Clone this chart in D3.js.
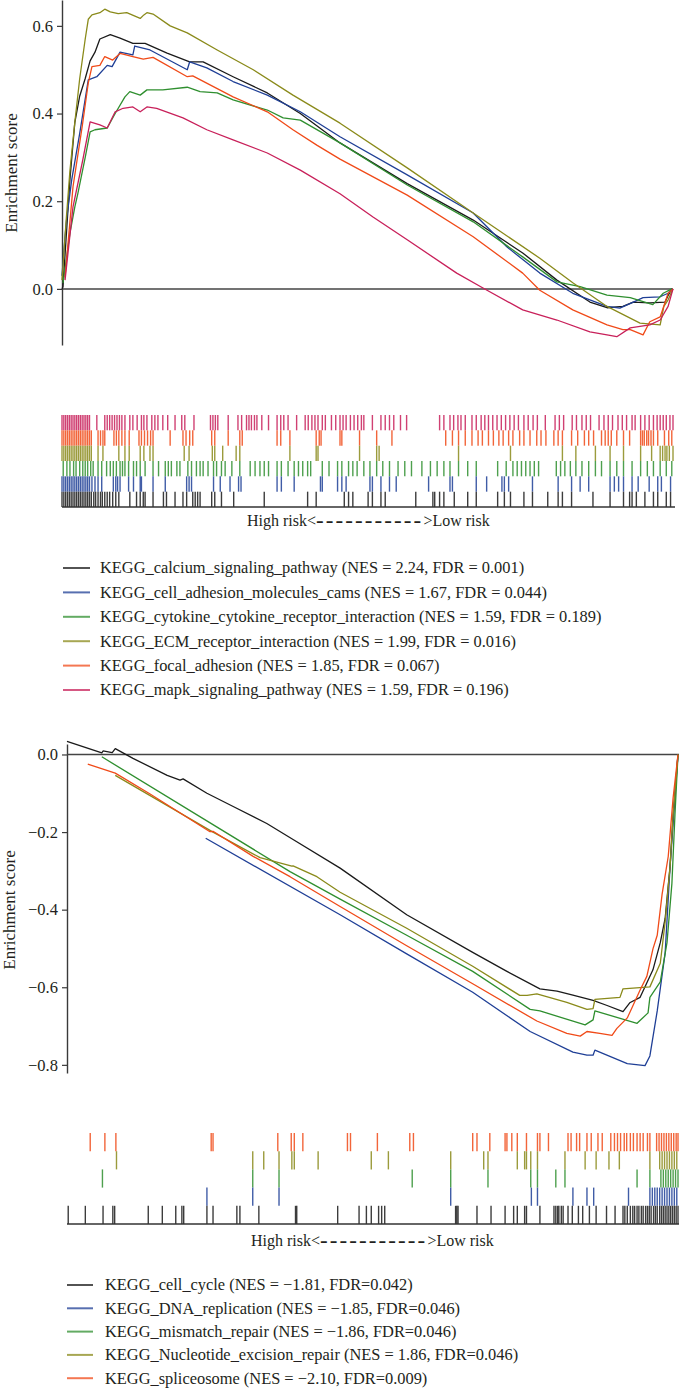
<!DOCTYPE html>
<html><head><meta charset="utf-8">
<script src="https://cdn.jsdelivr.net/npm/d3@7"></script>
<style>
body{margin:0;background:#fff}
svg{display:block}
text{font-family:"Liberation Serif","DejaVu Serif","Times New Roman",serif;fill:#231f20}
</style>
</head><body>
<svg id="c" width="679" height="1389"></svg>
<script>
// ---------------- TOP PANEL DATA ----------------
const topNames = ["KEGG_calcium_signaling_pathway","KEGG_cell_adhesion_molecules_cams","KEGG_cytokine_cytokine_receptor_interaction","KEGG_ECM_receptor_interaction","KEGG_focal_adhesion","KEGG_mapk_signaling_pathway"];
const topStats = ["(NES = 2.24, FDR = 0.001)","(NES = 1.67, FDR = 0.044)","(NES = 1.59, FDR = 0.189)","(NES = 1.99, FDR = 0.016)","(NES = 1.85, FDR = 0.067)","(NES = 1.59, FDR = 0.196)"];
const topColors = ["#1a1a1a","#1f3f96","#2f8f2f","#8a8a1a","#f04a18","#c8205a"];
const topTicks = [0.0, 0.2, 0.4, 0.6];

// running enrichment score: [rank %, ES]
const esCalcium = [[0,0.0],[0.16,0.005],[1.3,0.25],[2.1,0.38],[2.9,0.44],[3.8,0.48],[4.6,0.52],[5.4,0.54],[6.2,0.57],[7.9,0.58],[9.5,0.572],[11.6,0.56],[13.6,0.56],[17.2,0.538],[20.9,0.518],[23.1,0.518],[28.0,0.484],[33.6,0.447],[39.0,0.40],[45.5,0.333],[56.5,0.24],[67.3,0.157],[75.4,0.082],[81.0,0.02],[86.4,-0.03],[89.2,-0.043],[91.8,-0.04],[93.5,-0.03],[96.2,-0.032],[98.7,-0.03],[99.2,-0.015],[99.8,0.0]];
const esCams = [[0,0.03],[0.5,0.12],[0.8,0.165],[1.6,0.25],[2.9,0.355],[4.3,0.477],[5.7,0.484],[7.4,0.51],[8.2,0.507],[9.5,0.54],[11.6,0.534],[11.9,0.554],[14.4,0.545],[20.5,0.50],[20.9,0.518],[23.7,0.504],[28.0,0.473],[33.6,0.442],[39.0,0.404],[45.5,0.347],[56.5,0.26],[67.3,0.173],[72.8,0.096],[78.2,0.036],[83.6,-0.01],[89.2,-0.04],[91.3,-0.044],[93.5,-0.03],[95.1,-0.02],[97.9,-0.018],[99.2,-0.01],[99.8,0.0]];
const esCytokine = [[0.16,0.013],[1.3,0.127],[2.1,0.187],[2.6,0.218],[3.8,0.30],[4.6,0.358],[5.4,0.363],[7.4,0.367],[8.7,0.40],[10.3,0.438],[11.1,0.45],[12.8,0.442],[13.9,0.454],[16.5,0.454],[20.5,0.46],[22.6,0.45],[25.4,0.447],[28.0,0.431],[33.6,0.408],[36.2,0.39],[39.0,0.385],[45.5,0.333],[56.5,0.237],[67.3,0.153],[75.4,0.073],[81.0,0.016],[84.8,0.005],[89.2,-0.014],[93.0,-0.02],[96.7,-0.036],[98.4,-0.01],[99.8,0.0]];
const esEcm = [[0,0.02],[0.65,0.15],[1.3,0.27],[2.1,0.38],[2.9,0.48],[3.8,0.57],[4.3,0.615],[4.9,0.625],[6.2,0.63],[7.0,0.638],[7.9,0.632],[9.2,0.628],[10.6,0.63],[12.8,0.617],[13.4,0.625],[13.9,0.63],[14.9,0.627],[17.7,0.60],[20.5,0.584],[25.4,0.545],[31.3,0.50],[37.8,0.442],[45.5,0.378],[56.5,0.276],[67.3,0.173],[78.2,0.07],[83.6,0.014],[89.2,-0.04],[94.6,-0.078],[97.9,-0.082],[98.5,-0.04],[99.2,-0.025],[100,0.0]];
const esFocal = [[0.5,0.027],[1.8,0.233],[3.3,0.37],[4.3,0.47],[4.9,0.507],[6.2,0.51],[7.0,0.53],[8.3,0.522],[9.5,0.537],[11.6,0.53],[13.3,0.524],[14.9,0.528],[20.5,0.484],[21.4,0.486],[28.0,0.438],[33.6,0.404],[37.8,0.363],[41.7,0.328],[45.5,0.296],[56.5,0.214],[67.3,0.119],[75.4,0.036],[78.2,-0.003],[83.6,-0.048],[89.2,-0.082],[91.8,-0.093],[93.0,-0.093],[95.1,-0.105],[96.2,-0.075],[97.9,-0.064],[99.2,-0.01],[100,0.0]];
const esMapk = [[0.5,0.02],[1.8,0.187],[3.4,0.294],[4.6,0.381],[6.2,0.374],[7.4,0.367],[8.7,0.404],[10.0,0.412],[11.6,0.415],[12.8,0.404],[13.9,0.415],[15.5,0.412],[19.8,0.39],[23.7,0.363],[28.0,0.34],[33.6,0.31],[39.0,0.271],[45.5,0.217],[50.9,0.164],[56.5,0.112],[64.6,0.036],[68.9,0.002],[75.4,-0.048],[81.0,-0.071],[86.4,-0.098],[89.2,-0.105],[90.8,-0.109],[93.0,-0.089],[96.2,-0.082],[97.9,-0.071],[99.2,-0.04],[100,0.0]];
const topCurves = [esCalcium, esCams, esCytokine, esEcm, esFocal, esMapk];

// hit positions (rank %)
const hitsCalcium = [0,0.3,0.6,0.9,1.2,1.5,1.8,2.1,2.4,2.7,3.0,3.3,3.6,3.9,4.2,4.5,4.8,5.2,5.5,5.9,6.3,6.6,7.0,7.4,7.8,8.3,8.8,9.3,11.1,12.2,12.8,13.3,13.6,14.9,16.6,17.1,18.5,19.8,20.4,21.4,21.8,22.2,22.6,24.5,25.0,26.1,28.1,33.1,40.2,41.6,46.2,46.9,47.6,50.1,50.8,52.2,52.9,57.9,60.7,61.0,61.8,62.5,64.2,66.4,67.8,71.3,72.4,73.4,75.6,77.0,79.5,81.2,81.9,83.4,86.9,89.7,91.9,92.9,93.3,94.0,95.4,96.8,97.5,98.9,99.6];
const hitsCams = [0,0.3,0.6,0.9,1.2,1.5,1.8,2.1,2.4,2.7,3.0,3.3,3.6,3.9,4.2,4.5,4.9,5.4,5.9,6.5,8.4,8.8,9.1,9.5,10.9,11.7,12.8,13.0,14.9,16.9,20.4,20.8,21.2,24.8,25.9,27.5,28.9,29.3,35.2,35.9,38.0,42.3,42.6,45.1,45.8,46.5,50.4,50.8,52.2,53.6,54.7,60.0,63.5,63.9,67.8,69.5,72.0,72.4,73.1,77.0,81.2,83.4,84.8,86.2,89.7,90.4,91.1,91.9,93.3,94.3,96.1,97.5,98.1,99.6];
const hitsCytokine = [0.2,0.8,1.3,1.9,2.3,2.9,3.4,3.8,4.2,4.7,5.1,5.9,6.5,7.3,7.9,8.4,8.9,9.5,9.9,10.3,10.9,11.7,12.2,12.8,13.6,14.9,15.8,16.9,17.4,17.9,18.8,19.3,20.6,21.2,22.0,22.6,23.1,23.9,24.8,25.3,26.1,26.7,27.8,29.1,30.8,31.6,32.4,33.1,33.8,35.2,35.9,37.0,38.0,38.7,39.4,40.2,40.7,42.6,43.7,45.1,45.8,46.9,47.6,48.3,49.4,50.4,51.5,52.5,53.6,55.0,56.1,57.2,58.9,60.3,61.4,62.5,63.5,64.9,66.4,67.8,71.3,72.7,73.8,74.5,75.2,75.9,76.6,77.3,78.0,80.9,81.6,82.3,83.2,84.1,85.1,86.2,87.3,88.3,89.7,90.8,91.9,93.3,94.7,95.8,96.8,97.9,98.9,99.8];
const hitsEcm = [0,0.3,0.6,0.9,1.2,1.5,1.8,2.1,2.4,2.7,3.0,3.3,3.6,3.9,4.2,4.5,4.8,5.9,6.7,9.3,10.3,11.0,12.8,13.4,14.4,14.9,20.0,20.8,24.6,25.0,26.3,28.5,29.1,37.3,41.6,41.9,48.7,51.5,51.9,64.9,73.4,81.9,84.1,87.3,89.7,91.9,94.7,96.5,97.9,98.3,98.7,99.0,99.4,100];
const hitsFocal = [0,0.3,0.6,0.9,1.2,1.5,1.8,2.1,2.4,2.7,3.0,3.3,3.6,3.9,4.2,4.5,4.8,5.9,6.3,6.7,7.0,8.5,8.9,9.3,9.8,10.3,11.0,12.6,13.0,13.5,14.0,14.5,14.9,17.7,19.8,20.3,20.9,21.4,24.5,25.0,27.2,29.1,29.5,35.2,35.8,37.3,41.6,42.1,42.4,45.5,45.8,48.7,51.5,54.0,62.8,63.9,64.9,66.0,67.1,68.1,68.8,69.8,70.6,71.5,72.2,73.1,73.8,74.9,75.6,76.6,77.7,78.4,79.2,80.5,81.2,81.9,83.4,84.4,85.5,86.2,87.0,88.3,88.9,89.4,89.9,90.8,91.9,92.9,94.7,95.0,95.3,95.7,96.0,96.4,96.8,97.5,98.6,99.3,99.8];
const hitsMapk = [0,0.3,0.6,0.9,1.2,1.5,1.8,2.1,2.4,2.7,3.0,3.3,3.6,3.9,4.2,4.5,5.7,7.0,7.4,7.8,8.2,8.6,9.0,9.4,9.8,10.3,11.1,11.6,12.3,13.0,13.4,13.9,14.7,15.2,15.7,16.5,17.3,18.5,19.6,20.1,21.6,24.3,24.7,25.1,25.5,27.2,28.8,29.4,30.2,30.6,31.0,31.5,31.9,32.7,33.8,35.2,35.8,36.3,37.0,38.4,39.8,40.3,40.9,41.4,41.9,42.6,43.1,44.1,44.8,45.5,46.0,46.5,47.2,47.8,48.4,49.0,49.4,50.8,52.2,52.9,53.6,54.3,55.4,56.4,61.8,62.5,63.5,64.1,64.8,65.3,66.0,67.1,67.8,68.6,69.2,69.8,70.5,71.2,71.9,72.6,73.3,74.0,74.7,75.6,76.3,77.1,77.8,79.1,80.7,81.4,82.1,83.5,84.2,85.1,85.8,86.5,87.9,88.7,89.4,90.1,91.0,91.7,92.4,93.3,93.8,94.7,95.4,96.1,96.8,97.4,97.9,98.4,98.9,99.5,100];
const topHits = [hitsCalcium, hitsCams, hitsCytokine, hitsEcm, hitsFocal, hitsMapk];

// ---------------- BOTTOM PANEL DATA ----------------
const botNames = ["KEGG_cell_cycle","KEGG_DNA_replication","KEGG_mismatch_repair","KEGG_Nucleotide_excision_repair","KEGG_spliceosome"];
const botStats = ["(NES = \u22121.81, FDR=0.042)","(NES = \u22121.85, FDR=0.046)","(NES = \u22121.86, FDR=0.046)","(NES = 1.86, FDR=0.046)","(NES = \u22122.10, FDR=0.009)"];
const botColors = ["#1a1a1a","#1f3f96","#2f8f2f","#8a8a1a","#f04a18"];
const botTicks = [0.0, -0.2, -0.4, -0.6, -0.8];

const esCellCycle = [[0,0.034],[5.7,0.004],[5.9,0.009],[7.4,0.005],[7.9,0.015],[10.8,-0.01],[16.4,-0.054],[18.5,-0.066],[19.0,-0.063],[22.9,-0.10],[27.2,-0.134],[32.7,-0.178],[37.0,-0.219],[44.7,-0.293],[55.6,-0.413],[66.4,-0.51],[72.0,-0.559],[77.4,-0.604],[80.2,-0.61],[82.8,-0.62],[86.1,-0.634],[88.4,-0.647],[91.0,-0.663],[92.1,-0.64],[93.8,-0.626],[95.9,-0.555],[97.1,-0.485],[97.9,-0.422],[98.7,-0.289],[99.2,-0.156],[100,0.0]];
const esDna = [[22.7,-0.216],[44.7,-0.413],[55.6,-0.514],[66.4,-0.613],[75.8,-0.714],[82.8,-0.767],[85.1,-0.775],[86.1,-0.775],[86.4,-0.762],[91.7,-0.797],[94.6,-0.802],[95.4,-0.777],[96.6,-0.661],[97.9,-0.511],[98.7,-0.289],[99.5,-0.112],[100,0.0]];
const esMismatch = [[5.7,-0.006],[36.5,-0.302],[44.7,-0.373],[55.6,-0.466],[66.4,-0.559],[75.8,-0.657],[77.4,-0.661],[84.8,-0.697],[86.1,-0.684],[86.4,-0.661],[93.3,-0.693],[95.1,-0.666],[95.4,-0.626],[97.1,-0.586],[98.2,-0.485],[99.0,-0.333],[99.5,-0.156],[100,0.0]];
const esNer = [[7.9,-0.054],[23.9,-0.20],[31.6,-0.266],[36.8,-0.288],[37.0,-0.287],[40.9,-0.315],[44.7,-0.355],[55.6,-0.448],[66.4,-0.546],[74.1,-0.621],[75.3,-0.621],[76.9,-0.617],[81.8,-0.639],[85.1,-0.657],[86.1,-0.655],[86.4,-0.631],[90.5,-0.626],[91.0,-0.604],[95.4,-0.599],[97.1,-0.538],[97.9,-0.431],[98.7,-0.289],[99.2,-0.156],[100,0.0]];
const esSpliceosome = [[3.4,-0.025],[7.9,-0.048],[13.6,-0.102],[23.4,-0.199],[23.9,-0.198],[30.4,-0.262],[36.5,-0.315],[44.7,-0.392],[55.6,-0.493],[66.4,-0.591],[76.9,-0.687],[81.8,-0.719],[84.0,-0.726],[85.1,-0.714],[87.2,-0.719],[89.2,-0.724],[90.0,-0.706],[91.7,-0.679],[93.8,-0.607],[94.9,-0.572],[95.9,-0.501],[96.6,-0.466],[97.4,-0.36],[98.4,-0.263],[99.2,-0.112],[100,0.0]];
const botCurves = [esCellCycle, esDna, esMismatch, esNer, esSpliceosome];

const hitsCellCycle = [0.2,3.0,5.9,7.5,7.8,13.3,15.6,17.8,18.8,19.1,22.9,23.9,27.8,28.3,31.4,37.4,37.6,44.3,47.8,49.0,49.8,51.0,51.5,52.0,63.6,63.8,64.0,67.1,69.4,71.7,73.1,73.7,74.9,75.2,77.4,79.7,80.0,80.3,80.5,80.9,81.2,82.0,82.7,83.7,84.4,85.5,86.6,88.3,89.7,91.0,91.3,91.7,92.2,92.6,92.9,93.3,93.6,94.0,94.3,94.7,95.0,95.3,95.6,96.0,96.3,96.6,97.0,97.3,97.6,97.9,98.2,98.5,98.8,99.1,99.4,99.7,100];
const hitsDna = [22.9,30.4,34.7,62.8,76.0,77.0,82.8,85.1,86.2,91.9,95.4,95.8,96.2,96.6,97.0,97.4,97.8,98.2,98.6,99.0,99.4,99.8];
const hitsMismatch = [5.8,30.4,34.7,56.5,62.8,68.9,75.9,77.0,80.0,81.5,93.3,95.4,97.2,97.6,98.0,98.4,98.8,99.2,99.6,100];
const hitsNer = [8.1,30.4,32.2,34.7,36.8,37.2,41.1,49.8,52.6,62.8,68.2,68.9,73.7,74.9,75.2,75.9,77.0,81.5,84.8,86.6,88.7,90.4,95.4,97.0,97.4,97.8,98.2,98.6,99.0,99.4,99.8];
const hitsSpliceosome = [3.8,6.2,8.0,23.6,23.9,34.5,36.7,37.2,38.6,45.9,46.4,50.8,56.1,56.7,66.4,67.1,69.2,71.7,72.0,72.8,73.7,75.2,77.0,77.4,78.8,82.0,82.5,83.4,83.9,85.1,85.8,86.9,87.6,89.0,89.6,90.1,90.6,91.2,91.6,92.2,92.7,93.3,93.8,94.3,95.0,95.4,96.5,96.9,97.3,97.7,98.1,98.5,98.9,99.3,99.7,100];
const botHits = [hitsCellCycle, hitsDna, hitsMismatch, hitsNer, hitsSpliceosome];

const xCaption = ["High risk<", "-----------", ">Low risk"];

// ---------------- DRAWING ----------------
const svg = d3.select("#c");
svg.append("rect").attr("width",679).attr("height",1389).attr("fill","#fff");
const fmt = d3.format(".1f");
const AX = "#3a3a3a";

function panel(cfg){
  const x = d3.scaleLinear().domain([0,100]).range([cfg.x0, cfg.x1]);
  const y = d3.scaleLinear().domain(cfg.yDom).range([cfg.yBot, cfg.yTop]);
  const ax = svg.append("g").attr("transform",`translate(${cfg.x0},0)`)
    .call(d3.axisLeft(y).tickValues(cfg.ticks).tickFormat(fmt).tickSize(5).tickPadding(4).tickSizeOuter(0));
  ax.attr("font-family",null);
  ax.select(".domain").attr("stroke",AX).attr("stroke-width",1.4);
  ax.selectAll(".tick line").attr("stroke",AX).attr("stroke-width",1.2);
  ax.selectAll(".tick text").attr("font-size",16.5).attr("fill","#231f20");
  svg.append("line").attr("x1",cfg.x0).attr("x2",cfg.zeroEnd).attr("y1",y(0)).attr("y2",y(0))
    .attr("stroke","#444").attr("stroke-width",1.5);
  svg.append("text").attr("transform",`translate(${cfg.labelX},${cfg.labelY}) rotate(-90)`)
    .attr("text-anchor","middle").attr("font-size",17).text("Enrichment score");
  const line = d3.line().x(d=>x(d[0])).y(d=>y(d[1]));
  cfg.curves.forEach((c,i)=>{
    svg.append("path").attr("d",line(c)).attr("fill","none")
      .attr("stroke",cfg.colors[i]).attr("stroke-width",1.3).attr("stroke-linejoin","round");
  });
  const order = cfg.names.map((d,i)=>i).reverse();
  const band = d3.scaleBand().domain(order).range([cfg.rugTop, cfg.rugBot]);
  order.forEach(i=>{
    svg.append("g").selectAll("line").data(cfg.hits[i]).join("line")
      .attr("x1",d=>x(d)).attr("x2",d=>x(d))
      .attr("y1",band(i)).attr("y2",band(i)+band.bandwidth())
      .attr("stroke",cfg.colors[i]).attr("stroke-width",1.4).attr("stroke-opacity",0.85);
  });
  svg.append("line").attr("x1",cfg.x0).attr("x2",cfg.rugEnd).attr("y1",cfg.rugBot).attr("y2",cfg.rugBot)
    .attr("stroke","#333").attr("stroke-width",1.5);
  const t = svg.append("text").attr("x",cfg.capX).attr("y",cfg.capY).attr("font-size",16);
  t.append("tspan").text(xCaption[0]);
  t.append("tspan").attr("font-size",23).attr("dy",1.6).attr("letter-spacing",2.1).text(xCaption[1]);
  t.append("tspan").attr("dy",-1.6).text(xCaption[2]);
  cfg.names.forEach((n,i)=>{
    const yy = cfg.legY + i*cfg.legStep;
    svg.append("line").attr("x1",cfg.legX0).attr("x2",cfg.legX1).attr("y1",yy).attr("y2",yy)
      .attr("stroke",cfg.colors[i]).attr("stroke-width",2).attr("stroke-opacity",0.75);
    svg.append("text").attr("x",cfg.legTx).attr("y",yy).attr("dy","0.33em")
      .attr("font-size",16.4).text(n+" "+cfg.stats[i]);
  });
}

panel({x0:62, x1:673, zeroEnd:673, yDom:[-0.128,0.659], yTop:0, yBot:345, ticks:topTicks,
  labelX:17, labelY:173, curves:topCurves, colors:topColors, names:topNames, stats:topStats, hits:topHits,
  rugTop:415, rugBot:507, rugEnd:675, capX:247, capY:526,
  legY:568, legStep:24.4, legX0:63, legX1:90, legTx:100});

panel({x0:67, x1:678, zeroEnd:679, yDom:[-0.821,0.027], yTop:744, yBot:1073, ticks:botTicks,
  labelX:15, labelY:910, curves:botCurves, colors:botColors, names:botNames, stats:botStats, hits:botHits,
  rugTop:1133, rugBot:1224, rugEnd:679, capX:251, capY:1246,
  legY:1285, legStep:23.3, legX0:67, legX1:93, legTx:105});
</script>
</body></html>
